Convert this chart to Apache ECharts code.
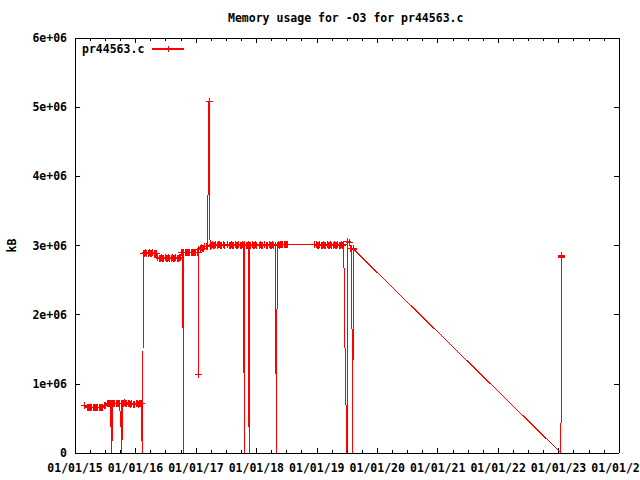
<!DOCTYPE html>
<html><head><meta charset="utf-8">
<script src="https://cdn.jsdelivr.net/npm/echarts@6/dist/echarts.min.js"></script>
<style>html,body{margin:0;padding:0;background:#fff}#c{width:640px;height:480px}
#c svg path{shape-rendering:crispEdges}</style>
</head><body><div id="c"></div>
<script>
const chartTitle = 'Memory usage for -O3 for pr44563.c';
const seriesName = 'pr44563.c';
const yAxisName = 'kB';
const xTickLabels = ['01/01/15','01/01/16','01/01/17','01/01/18','01/01/19','01/01/20','01/01/21','01/01/22','01/01/23','01/01/24'];
const yTickLabels = ['0','1e+06','2e+06','3e+06','4e+06','5e+06','6e+06'];

// sample times (axis units, 15 = "01/01/15")
const times = [
  15.16, 15.20, 15.22, 15.24, 15.26, 15.28, 15.30, 15.32, 15.34, 15.36, 15.38, 15.40, 15.42, 15.44, 15.46, 15.49, 15.51,
  15.53, 15.55, 15.57, 15.59, 15.595, 15.60, 15.61, 15.62, 15.64, 15.66, 15.68, 15.70, 15.72, 15.74, 15.755, 15.765, 15.775, 15.785, 15.80, 15.82, 15.84, 15.86, 15.88, 15.90, 15.92, 15.94, 15.96, 15.98,
  16.01, 16.03, 16.05, 16.07, 16.09, 16.105, 16.11, 16.125, 16.135,
  16.15, 16.17, 16.19, 16.21, 16.23, 16.25, 16.27, 16.29, 16.31, 16.33, 16.35,
  16.37, 16.39, 16.41, 16.43, 16.45, 16.47, 16.49, 16.51, 16.53, 16.55, 16.57, 16.59, 16.61, 16.63, 16.65, 16.67, 16.69, 16.71, 16.73, 16.75,
  16.77, 16.785, 16.79, 16.80, 16.82, 16.84, 16.86, 16.88, 16.90, 16.92, 16.94, 16.96, 16.98, 17.00, 17.02, 17.035, 17.04, 17.05,
  17.07, 17.09, 17.11, 17.13, 17.15, 17.17, 17.19, 17.20, 17.205, 17.217, 17.222, 17.235,
  17.25, 17.27, 17.29, 17.31, 17.33, 17.35, 17.37, 17.39, 17.41, 17.43, 17.45, 17.47, 17.53, 17.55, 17.57, 17.59, 17.61, 17.63, 17.65, 17.67, 17.69, 17.71, 17.73, 17.75, 17.77, 17.79, 17.80, 17.81,
  17.83, 17.85, 17.87, 17.88, 17.89, 17.91, 17.93, 17.95, 17.97, 17.99, 18.01, 18.05, 18.07, 18.09, 18.11, 18.13, 18.17, 18.19, 18.21, 18.23, 18.25, 18.27, 18.29, 18.31, 18.315, 18.318, 18.328, 18.336, 18.345,
  18.36, 18.38, 18.40, 18.42, 18.44, 18.46, 18.48, 18.50, 18.52, 18.97,
  18.99, 19.01, 19.03, 19.05, 19.07, 19.09, 19.11, 19.13, 19.15, 19.17, 19.19, 19.21, 19.23, 19.25, 19.27, 19.29, 19.31, 19.33, 19.35, 19.37, 19.39, 19.41, 19.43, 19.445, 19.451, 19.46, 19.475, 19.49, 19.50, 19.515,
  19.54, 19.56, 19.575, 19.585, 19.595, 19.605, 19.615,
  23.04, 23.045, 23.05, 23.055
];
// memory usage (kB) at each sample time
const memKB = [
  685000, 660000, 665000, 655000, 660000, 665000, 655000, 660000, 665000, 655000, 660000, 665000, 655000, 660000, 665000, 685000, 690000,
  715000, 720000, 710000, 715000, 370000, 720000, 0, 715000, 720000, 710000, 715000, 720000, 710000, 715000, 370000, 720000, 0, 715000, 720000, 725000, 715000, 720000, 710000, 715000, 705000, 710000, 700000, 705000,
  710000, 715000, 705000, 710000, 715000, 710000, 0, 1450000, 2890000,
  2890000, 2895000, 2885000, 2890000, 2895000, 2885000, 2890000, 2895000, 2885000, 2890000, 2880000,
  2820000, 2810000, 2815000, 2820000, 2810000, 2815000, 2820000, 2810000, 2815000, 2820000, 2810000, 2815000, 2820000, 2810000, 2815000, 2820000, 2810000, 2815000, 2820000, 2830000,
  2900000, 2905000, 0, 2900000, 2905000, 2895000, 2900000, 2905000, 2895000, 2900000, 2905000, 2895000, 2900000, 2905000, 2895000, 2900000, 1140000, 2940000,
  2960000, 2965000, 2955000, 2960000, 2985000, 2990000, 2985000, 2990000, 4020000, 5080000, 4020000, 2990000,
  3000000, 3010000, 3005000, 3000000, 3010000, 3005000, 3020000, 3010000, 3005000, 3000000, 3010000, 3005000, 3010000, 3005000, 3000000, 3010000, 3005000, 3000000, 3010000, 3005000, 3000000, 3010000, 3005000, 3000000, 3010000, 3005000, 0, 3010000,
  3005000, 3000000, 3010000, 0, 3005000, 3000000, 3010000, 3005000, 3000000, 3010000, 3005000, 3000000, 3010000, 3005000, 3000000, 3010000, 3005000, 3000000, 3010000, 3005000, 3000000, 3010000, 3005000, 3000000, 3000000, 2260000, 770000, 0, 3005000,
  3010000, 3005000, 3015000, 3010000, 3020000, 3015000, 3020000, 3015000, 3020000, 3020000,
  3010000, 3005000, 3000000, 3010000, 3005000, 3000000, 3010000, 3005000, 3000000, 3010000, 3005000, 3000000, 3010000, 3005000, 3000000, 3010000, 3005000, 3000000, 3010000, 3005000, 3000000, 3010000, 3005000, 3010000, 2650000, 1880000, 1130000, 380000, 0, 3060000,
  3050000, 2960000, 2950000, 1490000, 0, 2960000, 2940000,
  0, 2840000, 2820000, 2850000
];
// samples inside fast transitions, drawn without a point marker
const transientTimes = [15.595, 15.61, 15.755, 15.775, 16.11, 16.125, 16.79, 17.205, 17.222, 17.80, 17.88,
  18.318, 18.328, 18.336, 19.451, 19.46, 19.475, 19.49, 19.50, 19.585, 19.595, 23.04];

const transient = new Set(transientTimes);
const points = times.map((t, i) => [t, memKB[i]]);

const FONT = 'DejaVu Sans Mono';
const txt = { fontFamily: FONT, fontWeight: 'bold', fontSize: 11.5, color: '#000' };
const plusPath = 'path://M3,0L4,0L4,3L7,3L7,4L4,4L4,7L3,7L3,4L0,4L0,3L3,3Z';

const axisLine = { show: true, onZero: false, lineStyle: { color: '#000', width: 1 } };
const tick = { show: true, inside: true, length: 5, lineStyle: { color: '#000', width: 1 } };
const minor = { show: true, splitNumber: 4, length: 3, lineStyle: { color: '#000', width: 1 } };

const chart = echarts.init(document.getElementById('c'), null, { renderer: 'svg' });
chart.setOption({
  animation: false,
  backgroundColor: '#fff',
  title: {
    text: chartTitle, left: 228, top: 12, padding: 0,
    textStyle: Object.assign({}, txt)
  },
  legend: {
    left: 82, top: 43, padding: 0, align: 'right',
    itemWidth: 32, itemHeight: 7, itemGap: 0,
    textStyle: Object.assign({ padding: [0, 3, 0, 0] }, txt),
    data: [seriesName]
  },
  grid: { left: 75, right: 21, top: 38, bottom: 27, containLabel: false, outerBoundsMode: 'none' },
  xAxis: [
    {
      type: 'value', position: 'bottom', min: 15, max: 24, interval: 1,
      axisLine, axisTick: tick, minorTick: minor, splitLine: { show: false },
      axisLabel: Object.assign({ margin: 9, formatter: v => xTickLabels[Math.round(v - 15)] }, txt)
    },
    {
      type: 'value', position: 'top', min: 15, max: 24, interval: 1,
      axisLine, axisTick: tick, minorTick: minor, splitLine: { show: false }, axisLabel: { show: false }
    }
  ],
  yAxis: [
    {
      type: 'value', position: 'left', min: 0, max: 6000000, interval: 1000000,
      name: yAxisName, nameLocation: 'middle', nameRotate: 90, nameGap: 57,
      nameTextStyle: Object.assign({}, txt),
      axisLine, axisTick: tick, splitLine: { show: false },
      axisLabel: Object.assign({ margin: 8, formatter: v => yTickLabels[Math.round(v / 1000000)] }, txt)
    },
    {
      type: 'value', position: 'right', min: 0, max: 6000000, interval: 1000000,
      axisLine, axisTick: tick, splitLine: { show: false }, axisLabel: { show: false }
    }
  ],
  series: [{
    name: seriesName, type: 'line', xAxisIndex: 0, yAxisIndex: 0,
    data: points, clip: true,
    symbol: plusPath,
    symbolSize: v => (transient.has(v[0]) ? 0 : 7),
    showAllSymbol: true,
    lineStyle: { color: '#ff0000', width: 1 },
    itemStyle: { color: '#ff0000', borderWidth: 0 },
    emphasis: { disabled: true }
  }]
});
</script>
</body></html>
